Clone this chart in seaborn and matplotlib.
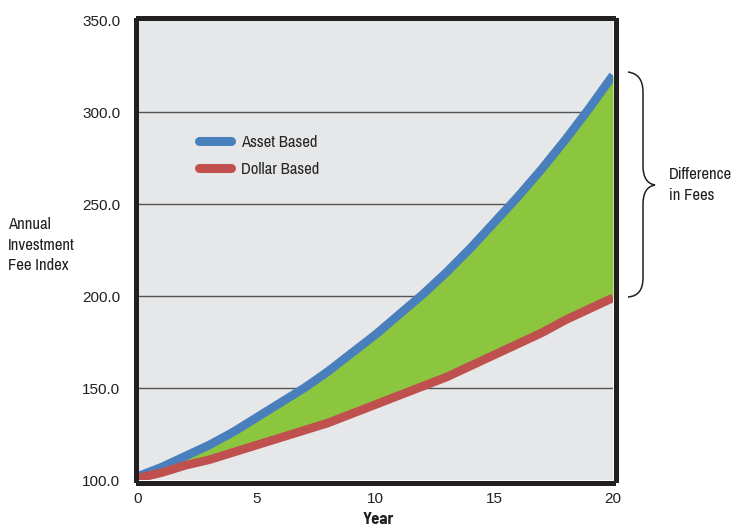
import matplotlib
matplotlib.use("Agg")
import matplotlib.pyplot as plt
import seaborn as sns
import pandas as pd
from matplotlib.path import Path
from matplotlib.patches import PathPatch

years = list(range(0, 21))
asset_based = [102, 107, 113, 119, 126, 134, 142, 150, 159, 169, 179,
               190, 201, 213, 226, 240, 254, 269, 285, 302, 320]
dollar_based = [101, 104, 108, 111, 115, 119, 123, 127, 131, 136, 141,
                146, 151, 156, 162, 168, 174, 180, 187, 193, 199]
y_ticks = [100, 150, 200, 250, 300, 350]
x_ticks = [0, 5, 10, 15, 20]

df = pd.DataFrame({"Year": years * 2,
                   "Index": asset_based + dollar_based,
                   "Series": ["Asset Based"] * 21 + ["Dollar Based"] * 21})

sns.set_theme(style="white")
plt.rcParams['font.family'] = ['Archivo Narrow', 'DejaVu Sans']
BOLDCOND = ['Barlow Semi Condensed', 'Archivo Narrow', 'DejaVu Sans']

FS = 12
W, H = 733, 532
fig = plt.figure(figsize=(W / 100, H / 100), dpi=100)
ax = fig.add_axes([138 / W, (H - 480) / H, 475 / W, 460 / H])
ax.set_facecolor("#e6e7e8")

for yv in y_ticks[1:-1]:
    ax.axhline(yv, color="#555555", lw=1.0, zorder=1)

ax.fill_between(years, dollar_based, asset_based, color="#8cc63f", lw=0, zorder=2)

sns.lineplot(data=df, x="Year", y="Index", hue="Series",
             palette={"Asset Based": "#4a7fbd", "Dollar Based": "#c0504d"},
             lw=6.2, ax=ax, zorder=3, legend=True)
for ln in ax.lines:
    ln.set_solid_capstyle("butt")

ax.set_xlim(0, 20)
ax.set_ylim(100, 350)
ax.set_xticks(x_ticks)
ax.set_xticklabels([str(v) for v in x_ticks])
ax.set_yticks(y_ticks)
ax.set_yticklabels([f"{v:.1f}" for v in y_ticks])
ax.tick_params(axis="both", length=0, labelsize=11, labelcolor="#231f20")
ax.tick_params(axis="y", pad=11)
ax.tick_params(axis="x", pad=7)
ax.set_xlabel("")
ax.set_ylabel("")

for sp in ax.spines.values():
    sp.set_visible(True)
    sp.set_linewidth(3.6)
    sp.set_color("#231f20")
    sp.set_position(("outward", 1.8))
    sp.set_zorder(5)

leg = ax.legend(loc="upper left", bbox_to_anchor=(0.097, 0.783), frameon=False,
                handlelength=1.9, handletextpad=0.6, labelspacing=0.75,
                fontsize=FS, title=None)
for h in leg.get_lines():
    h.set_linewidth(6.5)
    h.set_solid_capstyle("round")

fig.text(378 / W, 1 - 520 / H, "Year", ha="center", va="center",
         fontsize=FS, fontweight="bold", color="#231f20", family=BOLDCOND)
fig.text(8 / W, 1 - 245 / H, "Annual\nInvestment\nFee Index", ha="left",
         va="center", fontsize=FS, color="#231f20", linespacing=1.45)

# curly brace
def px(x, y):
    return (x / W, 1 - y / H)

verts = [px(628, 72), px(643, 74), px(643, 92),
         px(643, 166),
         px(643, 183), px(655, 185),
         px(643, 187), px(643, 204),
         px(643, 278),
         px(643, 296), px(628, 297)]
codes = [Path.MOVETO, Path.CURVE3, Path.CURVE3,
         Path.LINETO,
         Path.CURVE3, Path.CURVE3,
         Path.CURVE3, Path.CURVE3,
         Path.LINETO,
         Path.CURVE3, Path.CURVE3]
brace = PathPatch(Path(verts, codes), transform=fig.transFigure,
                  fill=False, lw=1.1, edgecolor="#231f20")
fig.patches.append(brace)

fig.text(669 / W, 1 - 185 / H, "Difference\nin Fees", ha="left", va="center",
         fontsize=FS, color="#231f20", linespacing=1.45)

fig.canvas.draw()
for lab in ax.get_xticklabels() + ax.get_yticklabels():
    lab.set_fontfamily("Liberation Sans")
    lab.set_fontsize(11)

fig.savefig("out.png", dpi=100, facecolor="white")
